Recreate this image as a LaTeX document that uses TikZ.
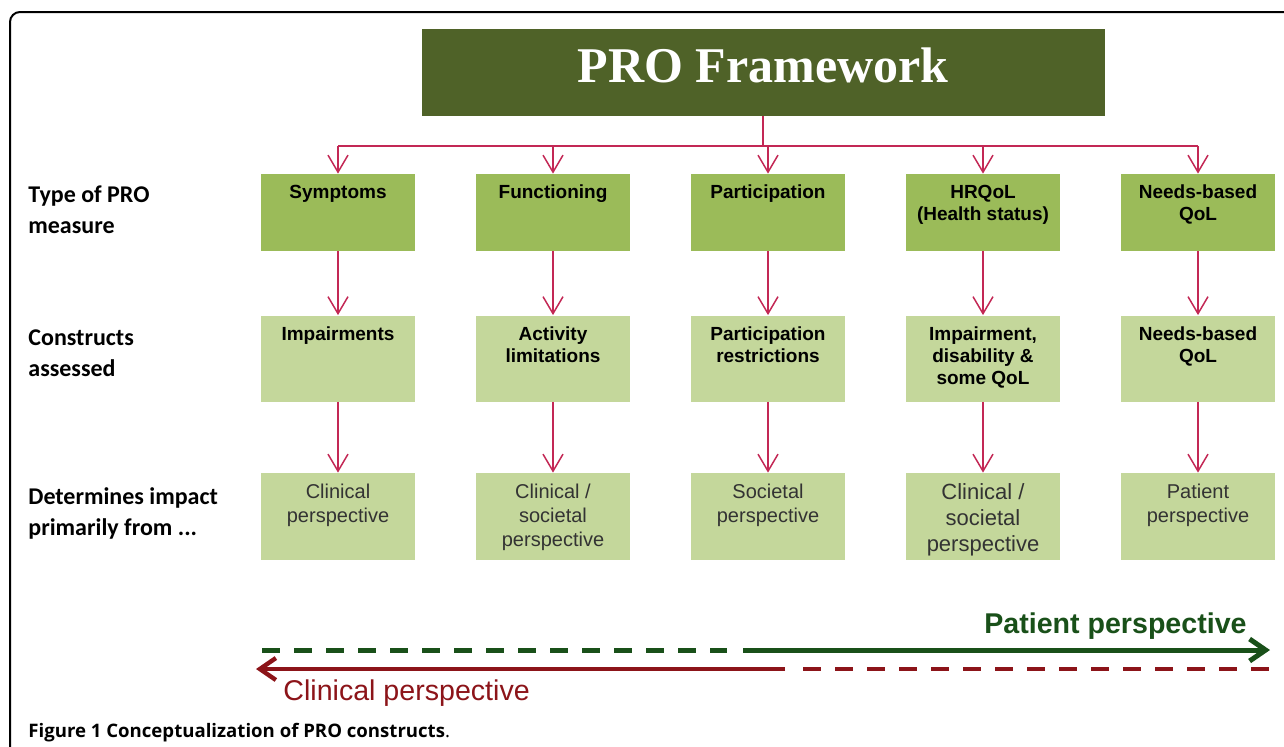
\documentclass[tikz,border=0pt]{standalone}
\usepackage{fontspec}
\setmainfont{Liberation Sans}
\newfontfamily\titleserif{Liberation Serif}
\newfontfamily\rowfont{Carlito}
\newfontfamily\capfont{Open Sans}
\usepackage{xcolor}
\usetikzlibrary{positioning}
\usetikzlibrary{arrows.meta}
\definecolor{darkolive}{RGB}{79,98,40}
\definecolor{midgreen}{RGB}{155,187,89}
\definecolor{lightgreen}{RGB}{196,215,155}
\definecolor{linkred}{RGB}{195,40,85}
\definecolor{patgreen}{RGB}{25,80,25}
\definecolor{clinred}{RGB}{140,20,25}
\newcommand{\cell}[2]{\parbox[c][#1][t]{77pt}{\centering\vspace*{5.5pt}#2}}

\begin{document}
\begin{tikzpicture}[x=0.5pt,y=-0.5pt,node distance=107.5pt,on grid,
    typebox/.style={fill=midgreen,inner sep=0pt,font=\fontsize{9.5}{11}\selectfont\bfseries},
    consbox/.style={fill=lightgreen,inner sep=0pt,font=\fontsize{9.5}{11}\selectfont\bfseries},
    viewbox/.style={fill=lightgreen,inner sep=0pt,text=black!80,font=\fontsize{10}{12}\selectfont},
    rowlabel/.style={anchor=west,align=left,inner sep=0pt,font=\rowfont\fontsize{12}{15.5}\selectfont\bfseries},
    link/.style={linkred,line width=0.75pt,-{Straight Barb[length=8.5pt,width=10pt]}},
    wide/.style={line width=2.5pt,dash pattern=on 9pt off 7pt}]
  \useasboundingbox (0,0) rectangle (1284,746);
  \draw[line width=1pt,rounded corners=5pt] (1300,12) -- (10,12) -- (10,760);

  \node[fill=darkolive,minimum width=341.5pt,minimum height=43.5pt,text=white,
        text depth=7pt,font=\titleserif\fontsize{25}{30}\selectfont\bfseries] (frame) at (763,72.5) {PRO Framework};

  % type of measure
  \node[typebox] (sym) at (338,212.5) {\cell{38.5pt}{Symptoms}};
  \node[typebox] (fun) [right=of sym] {\cell{38.5pt}{Functioning}};
  \node[typebox] (par) [right=of fun] {\cell{38.5pt}{Participation}};
  \node[typebox] (hrq) [right=of par] {\cell{38.5pt}{HRQoL\\(Health status)}};
  \node[typebox] (nbq) [right=of hrq] {\cell{38.5pt}{Needs-based\\QoL}};

  % constructs
  \node[consbox] (imp) [below=73pt of sym] {\cell{43pt}{Impairments}};
  \node[consbox] (act) [below=73pt of fun] {\cell{43pt}{Activity\\limitations}};
  \node[consbox] (res) [below=73pt of par] {\cell{43pt}{Participation\\restrictions}};
  \node[consbox] (dis) [below=73pt of hrq] {\cell{43pt}{Impairment,\\disability \&\\some QoL}};
  \node[consbox] (nbc) [below=73pt of nbq] {\cell{43pt}{Needs-based\\QoL}};

  % perspectives
  \node[viewbox] (v1) [below=79pt of imp] {\cell{43.5pt}{Clinical\\perspective}};
  \node[viewbox] (v2) [below=79pt of act] {\cell{43.5pt}{Clinical /\\societal\\perspective}};
  \node[viewbox] (v3) [below=79pt of res] {\cell{43.5pt}{Societal\\perspective}};
  \node[viewbox,font=\fontsize{11}{13}\selectfont] (v4) [below=79pt of dis] {\cell{43.5pt}{Clinical /\\societal\\perspective}};
  \node[viewbox] (v5) [below=79pt of nbc] {\cell{43.5pt}{Patient\\perspective}};

  \node[rowlabel] (rowtype) at (28,210) {Type of PRO\\measure};
  \node[rowlabel] (rowcons) at (28,353) {Constructs\\assessed};
  \node[rowlabel] (rowimp) at (28,513) {Determines impact\\primarily from ...};

  \coordinate (bus) at (763,146);
  \draw[linkred,line width=0.75pt] (frame) -- (bus);
  \draw[linkred,line width=0.75pt] (sym |- bus) -- (nbq |- bus);
  \foreach \b/\c/\v in {sym/imp/v1,fun/act/v2,par/res/v3,hrq/dis/v4,nbq/nbc/v5}{
    \draw[link] (\b |- bus) -- (\b);
    \draw[link] (\b) -- (\c);
    \draw[link] (\c) -- (\v);
  }

  % bottom arrows
  \coordinate (gs) at (262,650);
  \coordinate (gm) at (743,650);
  \coordinate (ge) at (1270,650);
  \coordinate (re) at (256,669);
  \coordinate (rm) at (785,669);
  \coordinate (rd) at (803,669);
  \coordinate (rs) at (1272,669);
  \draw[patgreen,wide] (gs) -- (727,650);
  \draw[patgreen,line width=2.5pt,-{Straight Barb[length=8pt,width=11pt]}] (gm) -- (ge);
  \draw[clinred,line width=2.2pt,-{Straight Barb[length=8pt,width=11pt]}] (rm) -- (re);
  \draw[clinred,wide,line width=2.2pt] (rd) -- (rs);
  \node[anchor=base east,inner sep=0pt,text=patgreen,font=\fontsize{14.3}{16}\selectfont\bfseries] (patlab) at (1247,633) {Patient perspective};
  \node[anchor=base west,inner sep=0pt,text=clinred,font=\fontsize{14.3}{16}\selectfont] (clinlab) at (283,700) {Clinical perspective};

  \node[anchor=base west,inner sep=0pt,font=\capfont\fontsize{9.3}{11}\selectfont] (caption) at (28,737)
    {\bfseries Figure 1 Conceptualization of PRO constructs\mdseries.};
\end{tikzpicture}
\end{document}
